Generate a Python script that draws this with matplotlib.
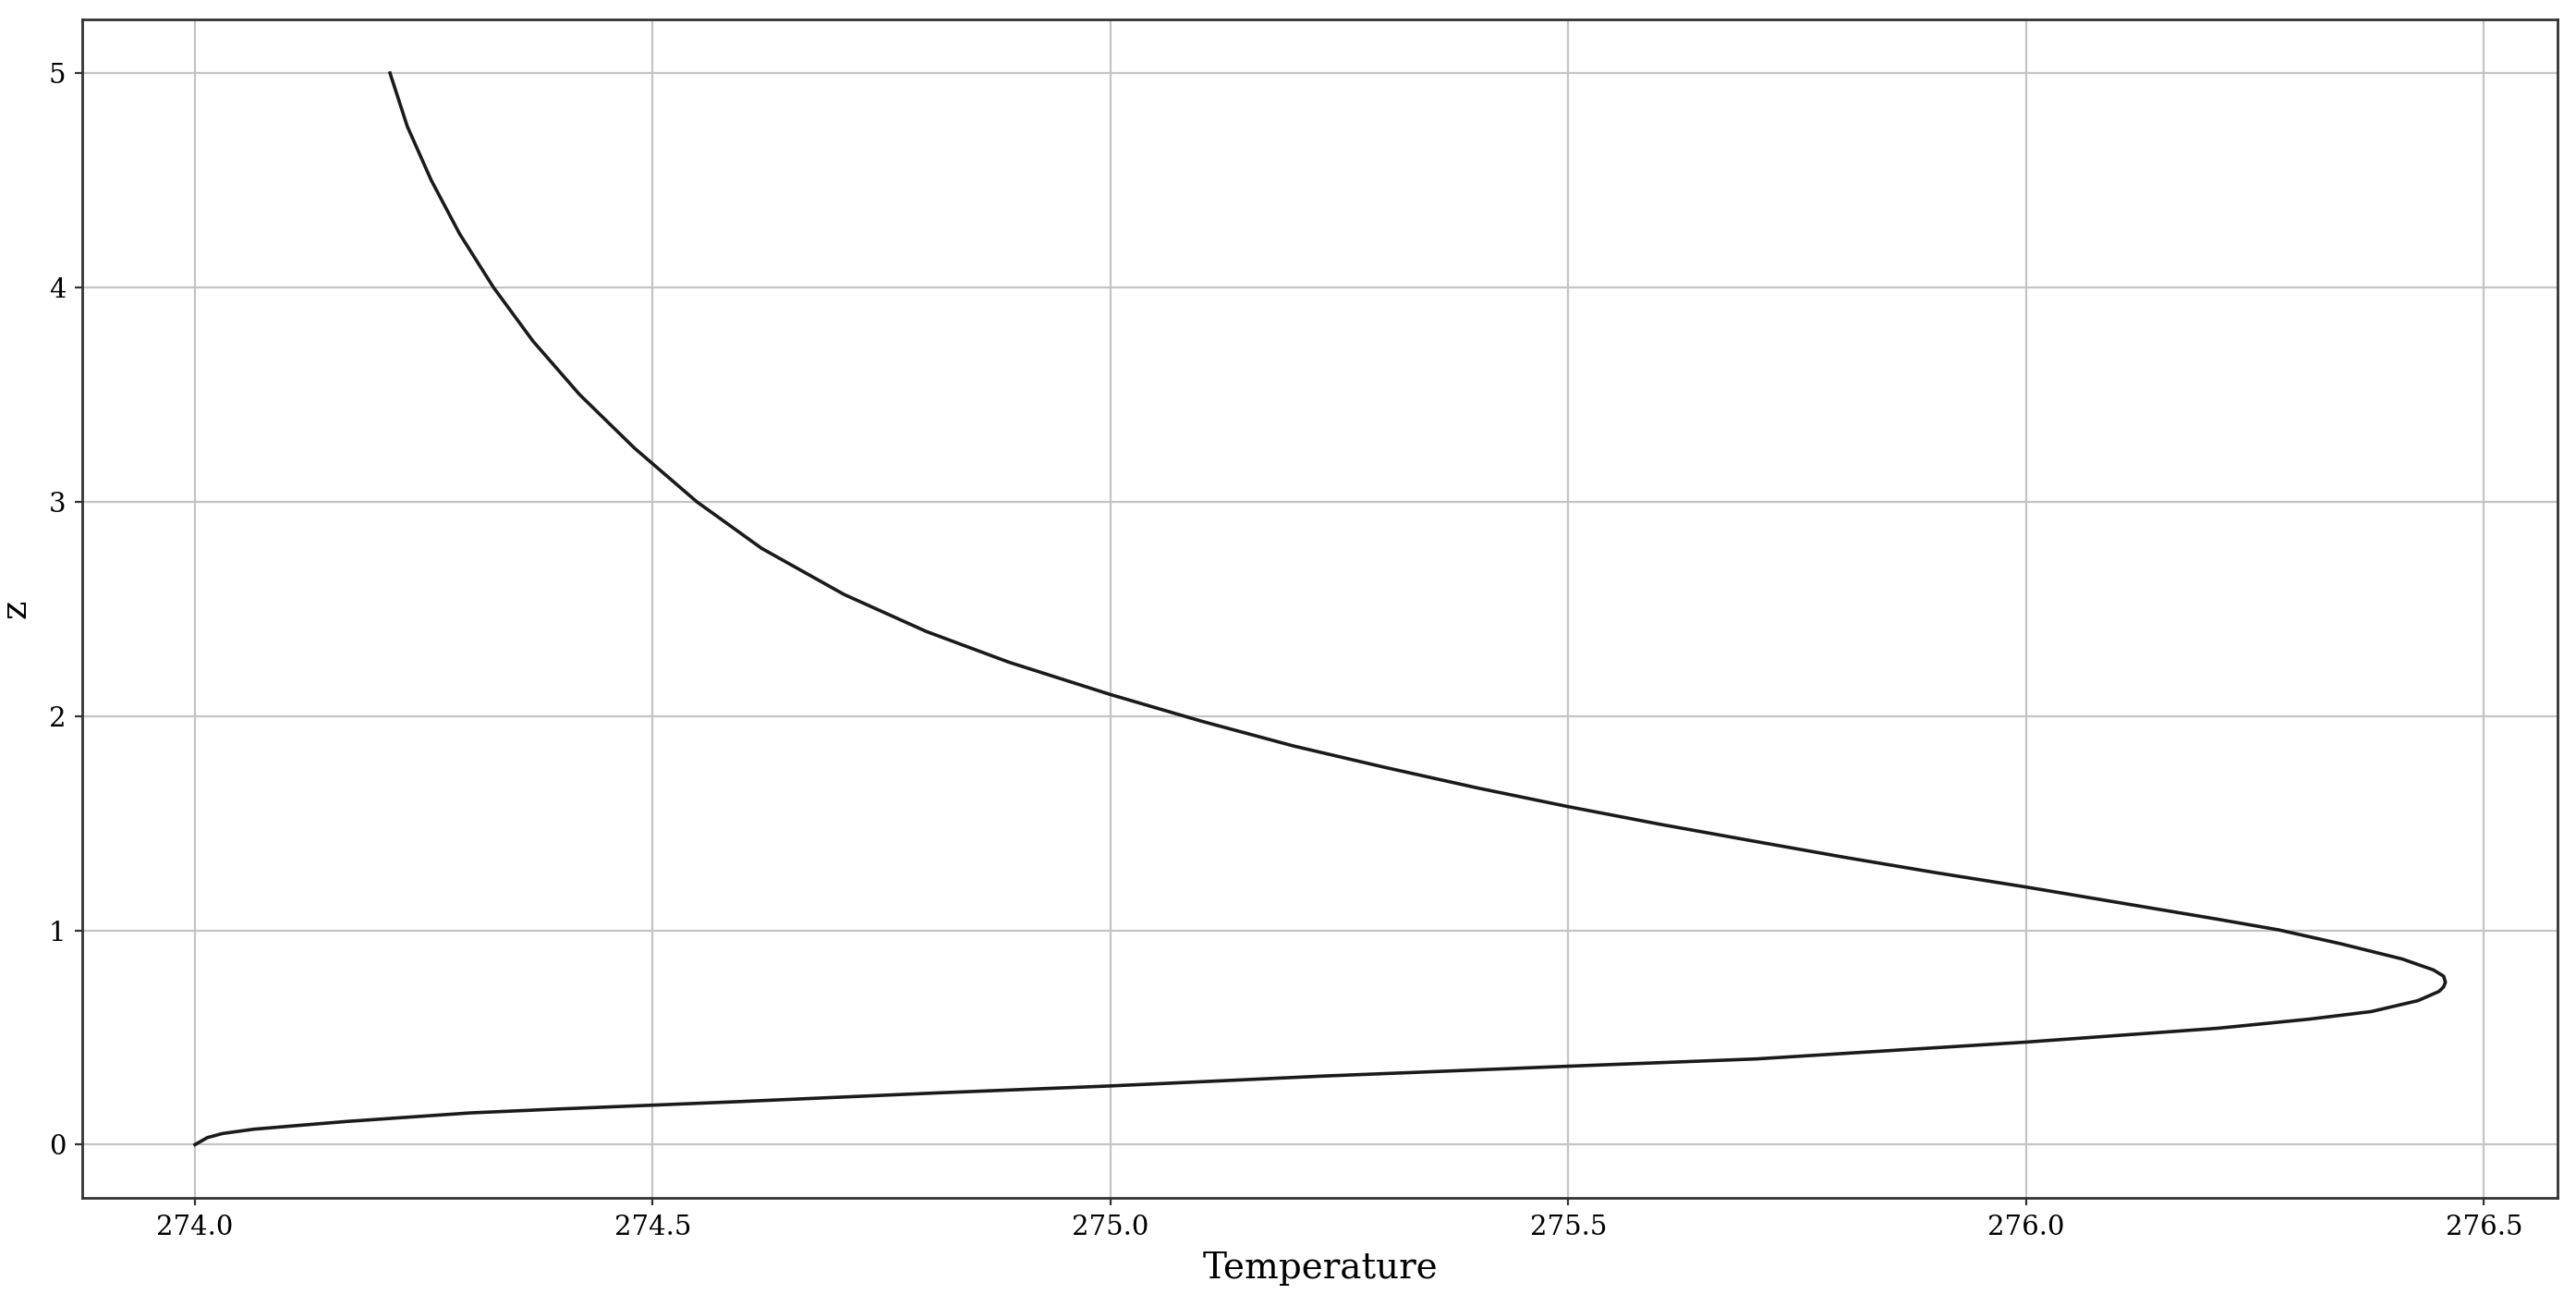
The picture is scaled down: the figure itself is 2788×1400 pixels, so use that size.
import matplotlib
matplotlib.use('Agg')
import matplotlib.pyplot as plt

# profile, from the surface (z=0) upwards
temperature = [274.0, 274.0136, 274.030, 274.064, 274.114, 274.165, 274.222, 274.30,
               274.40, 274.498, 274.595, 274.808, 275.0, 275.232, 275.5, 275.705, 275.998,
               276.209, 276.310, 276.377, 276.428, 276.451, 276.456, 276.458, 276.456,
               276.445, 276.411, 276.344, 276.276, 276.209, 276.0, 275.9, 275.8,
               275.7, 275.6, 275.5, 275.4, 275.3, 275.2, 275.1, 275.0,
               274.889, 274.799, 274.709, 274.619, 274.548, 274.48, 274.42, 274.369,
               274.326, 274.289, 274.258, 274.232, 274.213]
z = [0.0, 0.033, 0.052, 0.072, 0.090, 0.108, 0.125, 0.148,
     0.167, 0.184, 0.201, 0.241, 0.274, 0.32, 0.366, 0.400, 0.478,
     0.543, 0.586, 0.621, 0.672, 0.715, 0.736, 0.758, 0.786,
     0.815, 0.866, 0.937, 1.002, 1.052, 1.202, 1.27, 1.342,
     1.418, 1.495, 1.577, 1.665, 1.76, 1.86, 1.975, 2.1,
     2.251, 2.394, 2.567, 2.782, 3.0, 3.25, 3.5, 3.75,
     4.0, 4.25, 4.5, 4.75, 5.0]

plt.rcParams['font.family'] = ['DejaVu Serif']

fig = plt.figure(figsize=(13.94, 7.0), dpi=200)
ax = fig.add_axes([0.032, 0.074, 0.961, 0.911])

ax.plot(temperature, z, color='#1a1a1a', linewidth=1.3)

ax.grid(True, color='#c4c4c4', linewidth=0.8)
ax.set_axisbelow(True)
ax.set_xlabel('Temperature', fontsize=14, labelpad=4)
ax.set_ylabel('z', fontsize=14, labelpad=6)
ax.tick_params(labelsize=10.5, length=3, color='#333333')
for s in ax.spines.values():
    s.set_color('#333333')
    s.set_linewidth(1.0)

plt.savefig('out.png', dpi=200)
plt.close()
